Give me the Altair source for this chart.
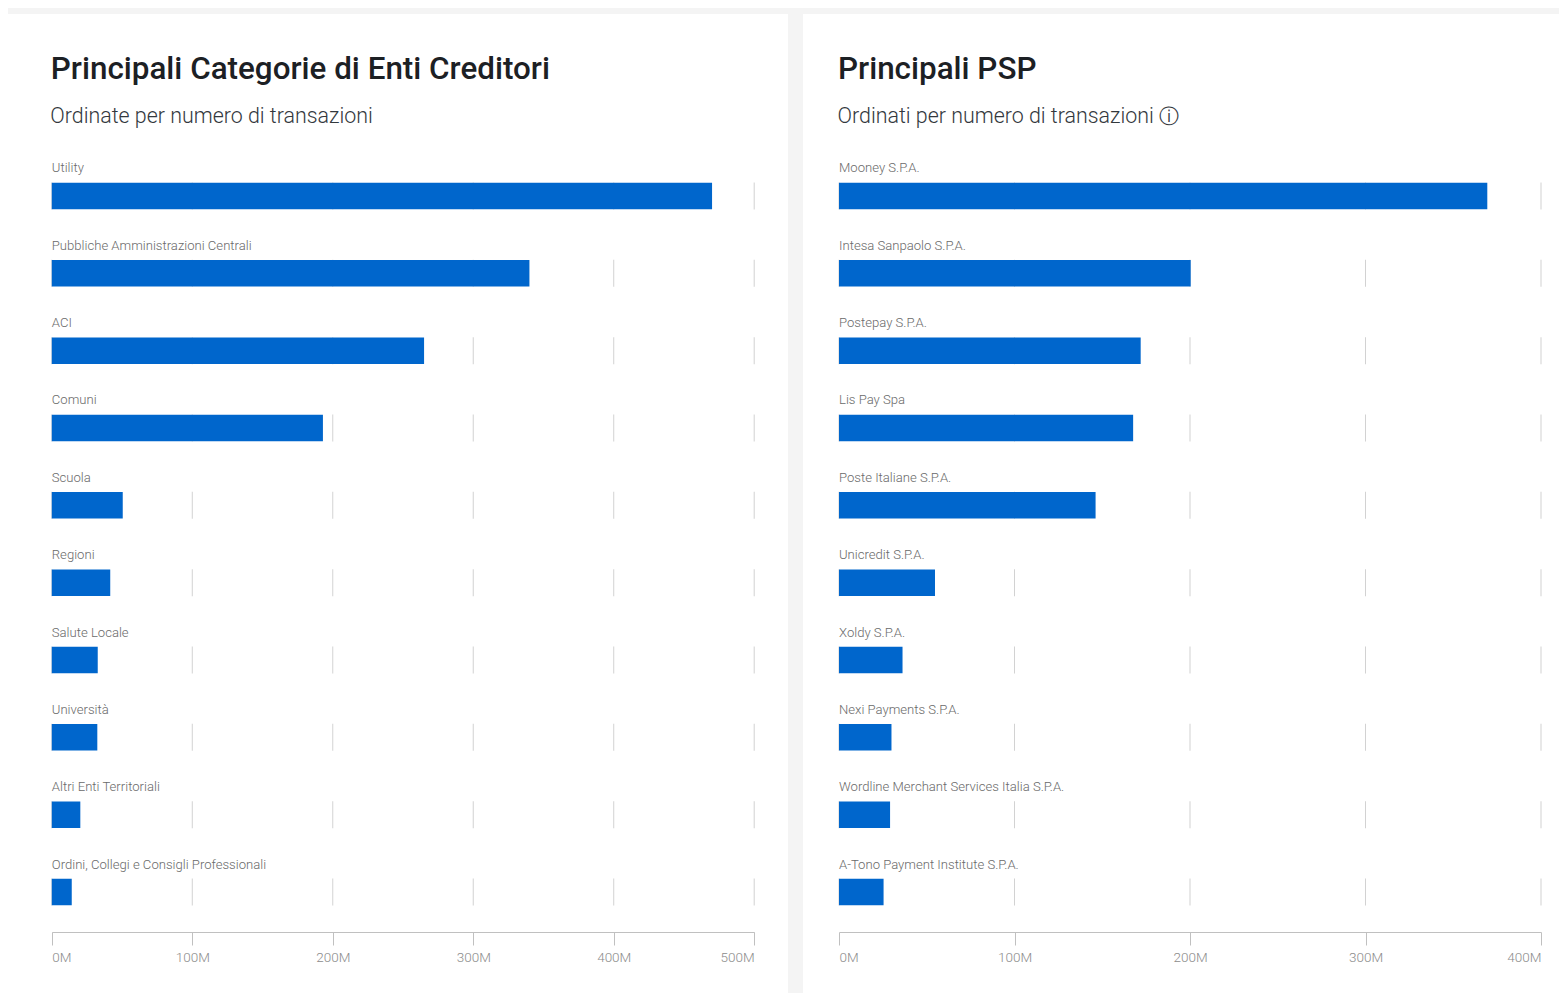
import altair as alt
import pandas as pd

FONT = "Roboto"

titles = ["Principali Categorie di Enti Creditori", "Principali PSP"]
subtitles = ["Ordinate per numero di transazioni", "Ordinati per numero di transazioni"]

cats_a = ["Utility", "Pubbliche Amministrazioni Centrali", "ACI", "Comuni", "Scuola", "Regioni",
          "Salute Locale", "Università", "Altri Enti Territoriali",
          "Ordini, Collegi e Consigli Professionali"]
vals_a = [470, 340, 265, 193, 50.5, 41.6, 32.7, 32.4, 20.3, 14.2]
ticks_a = [0, 100, 200, 300, 400, 500]

cats_b = ["Mooney S.P.A.", "Intesa Sanpaolo S.P.A.", "Postepay S.P.A.", "Lis Pay Spa",
          "Poste Italiane S.P.A.", "Unicredit S.P.A.", "Xoldy S.P.A.", "Nexi Payments S.P.A.",
          "Wordline Merchant Services Italia S.P.A.", "A-Tono Payment Institute S.P.A."]
vals_b = [369.4, 200.4, 171.9, 167.6, 146.2, 54.7, 36.2, 29.9, 29.1, 25.4]
ticks_b = [0, 100, 200, 300, 400]

TOP = 14
BOTTOM = 993


def panel(title, subtitle, cats, vals, ticks, left, width, x0, x1, icon=None):
    df = pd.DataFrame({"cat": cats, "val": vals})
    grid = pd.DataFrame([{"cat": c, "val": t} for c in cats for t in ticks])
    xs = alt.Scale(domain=[ticks[0], ticks[-1]], range=[x0 - left, x1 - left], nice=False)
    ys = alt.Scale(domain=cats, range=[157.33 - TOP, 930.67 - TOP], paddingInner=0, paddingOuter=0)
    y = alt.Y("cat:N", scale=ys, axis=None, sort=None)

    ticks_layer = alt.Chart(grid).mark_tick(size=27, thickness=1, color="#bfbfbf").encode(
        x=alt.X("val:Q", scale=xs, title=None, axis=alt.Axis(
            values=ticks, labelExpr="datum.value + 'M'", grid=False, offset=932 - BOTTOM,
            domainColor="#c0c0c0", tickColor="#c0c0c0", tickSize=13, labelFlush=True,
            labelColor="#8c8c8c", labelFont=FONT, labelFontSize=13.5, labelFontWeight=300,
            labelPadding=5)),
        y=y)
    bars = alt.Chart(df).mark_bar(size=26.5, color="#0066cc", cornerRadius=0).encode(
        x=alt.X("val:Q", scale=xs), y=y)
    labels = alt.Chart(df).mark_text(align="left", baseline="middle", dy=-27.5, font=FONT, fontSize=13.1,
                                     fontWeight=300, color="#6a6a6a").encode(
        x=alt.value(x0 - left), y=y, text="cat:N")

    def fixed(text, x, yy, size, weight, color, font=FONT):
        return alt.Chart(pd.DataFrame({"t": [text]})).mark_text(
            align="left", baseline="alphabetic", font=font, fontSize=size, fontWeight=weight, color=color
        ).encode(x=alt.value(x), y=alt.value(yy), text="t:N")

    layers = [ticks_layer, bars, labels,
              fixed(title, x0 - 1 - left, 79 - TOP, 31.4, 500, "#1c2024"),
              fixed(subtitle, x0 - 1.5 - left, 123 - TOP, 21.4, 300, "#33383d")]
    if icon:
        layers.append(fixed(icon[0], icon[1] - left, 122.5 - TOP, 19.5, 400, "#33383d", "DejaVu Sans"))
    return alt.layer(*layers).properties(width=width, height=BOTTOM - TOP)


left_panel = panel(titles[0], subtitles[0], cats_a, vals_a, ticks_a, 8, 780, 51.8, 754.2)
right_panel = panel(titles[1], subtitles[1], cats_b, vals_b, ticks_b, 803, 756, 839, 1541,
                    icon=("\u24d8", 1159))

chart = alt.hconcat(left_panel, right_panel, spacing=15).properties(
    background="#f4f4f4", padding={"left": 0, "top": 6, "right": 0, "bottom": 0}
).configure_view(fill="white", stroke=None)

chart.save("out.html", embed_options={"renderer": "svg", "actions": False})
